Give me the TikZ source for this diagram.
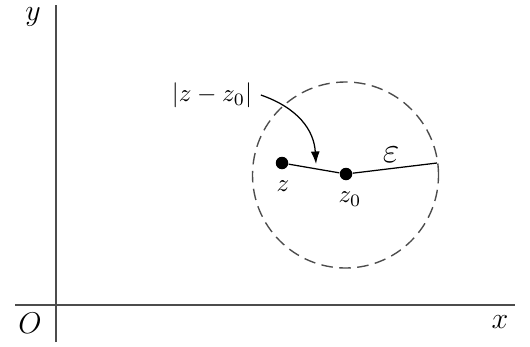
\documentclass[tikz,border=0pt]{standalone}
\usepackage{fontspec}
\setmainfont{Liberation Serif}
\usetikzlibrary{arrows.meta, positioning}

\begin{document}
\begin{tikzpicture}[x=0.4pt, y=-0.4pt,
  axis/.style={line width=0.8pt, draw=black!70},
  pt/.style={circle, fill=black, inner sep=0pt, minimum size=5pt},
  disk/.style={dash pattern=on 4.6pt off 2.6pt, line width=0.55pt, draw=black!70}]
  \useasboundingbox (0,0) rectangle (530,346);
  % axes
  \coordinate (xl) at (15,305);
  \coordinate (xr) at (515,305);
  \coordinate (yb) at (56,342);
  \coordinate (yt) at (56,5);
  \draw[axis] (xl) -- (xr);
  \draw[axis] (yb) -- (yt);
  \node[font=\large] (ylab) at (33,17) {$y$};
  \node[font=\large] (olab) at (30,323) {$O$};
  \node[font=\large] (xlab) at (500,322) {$x$};
  % neighbourhood
  \node[draw, disk, circle, minimum size=74.4pt, inner sep=0pt] (nbhd) at (345.5,175) {};
  \node[pt] (z0) at (346,174) {};
  \node[pt] (z) at (282,163) {};
  \coordinate (e) at (437,163);
  \draw[line width=0.5pt] (z) -- (z0) -- (e);
  \node (zlab) at (283,186) {$z$};
  \node (z0lab) at (350,199) {$z_0$};
  \node[font=\Large] (elab) at (391,155) {$\varepsilon$};
  \node (dlab) at (212,95) {$|z-z_0|$};
  \draw[line width=0.5pt, -{Latex[length=5pt, width=3.6pt]}] (dlab.east)
    .. controls (298,108) and (314,130) .. (316,164);
\end{tikzpicture}
\end{document}
